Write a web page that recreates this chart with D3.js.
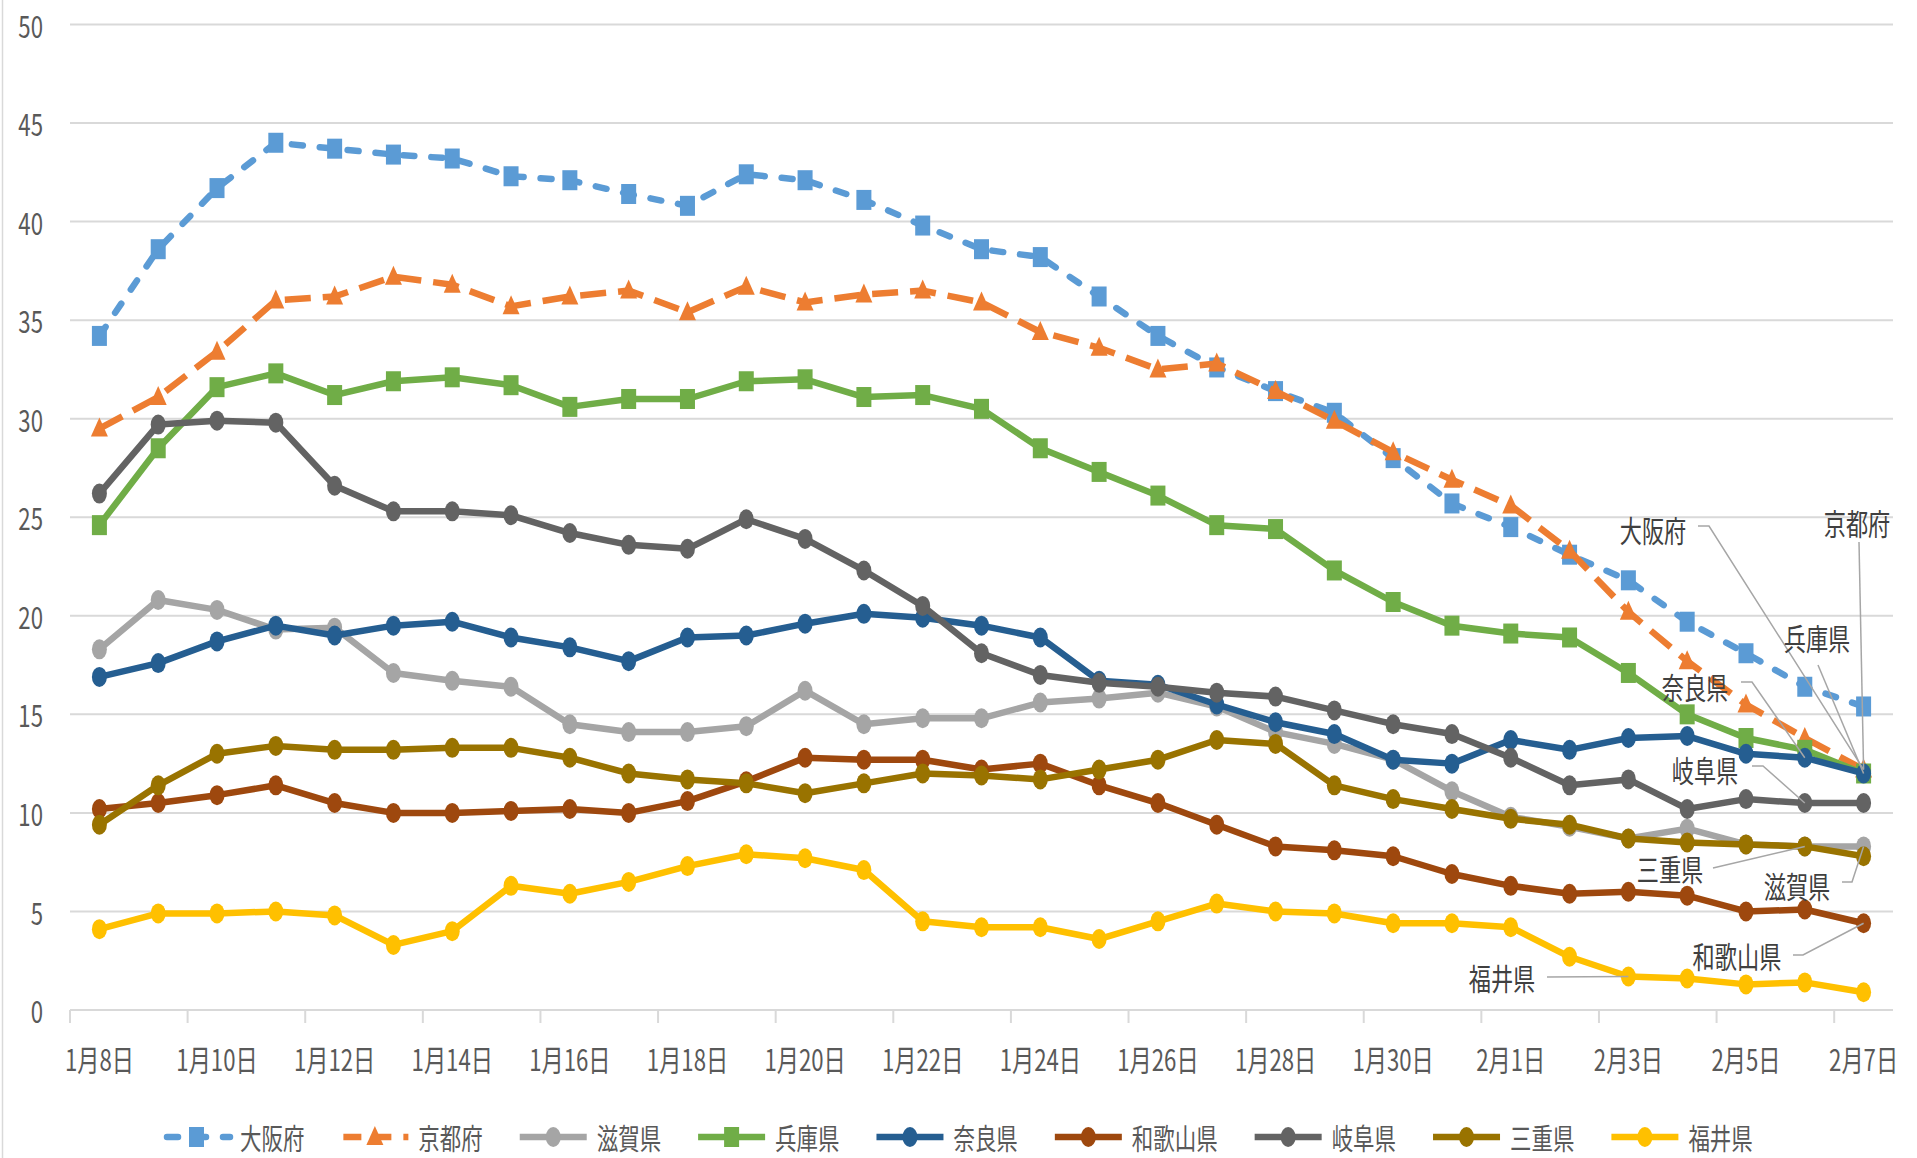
<!DOCTYPE html>
<html>
<head>
<meta charset="utf-8">
<script src="https://cdn.jsdelivr.net/npm/d3@7"></script>
<style>
  body { margin: 0; background: #fff; }
  svg { display: block; font-family: "Noto Sans CJK JP", "Noto Sans", sans-serif; }
</style>
</head>
<body>
<div id="chart"></div>
<script>
// categories (x axis)
const dates = ["1月8日","1月9日","1月10日","1月11日","1月12日","1月13日","1月14日","1月15日",
  "1月16日","1月17日","1月18日","1月19日","1月20日","1月21日","1月22日","1月23日","1月24日",
  "1月25日","1月26日","1月27日","1月28日","1月29日","1月30日","1月31日","2月1日","2月2日",
  "2月3日","2月4日","2月5日","2月6日","2月7日"];
const yTicks = [0, 5, 10, 15, 20, 25, 30, 35, 40, 45, 50];

// series values
const osaka    = [34.2,38.6,41.7,44.0,43.7,43.4,43.2,42.3,42.1,41.4,40.8,42.4,42.1,41.1,39.8,38.6,38.2,36.2,34.2,32.6,31.4,30.3,28.0,25.7,24.5,23.1,21.8,19.7,18.1,16.4,15.4];
const kyoto    = [29.5,31.1,33.4,36.0,36.2,37.2,36.8,35.7,36.2,36.5,35.4,36.7,35.9,36.3,36.5,35.9,34.4,33.6,32.5,32.8,31.4,29.9,28.3,26.9,25.6,23.3,20.2,17.7,15.5,13.8,12.2];
const shiga    = [18.3,20.8,20.3,19.3,19.4,17.1,16.7,16.4,14.5,14.1,14.1,14.4,16.2,14.5,14.8,14.8,15.6,15.8,16.1,15.4,14.1,13.5,12.7,11.1,9.8,9.3,8.7,9.2,8.4,8.3,8.3];
const hyogo    = [24.6,28.5,31.6,32.3,31.2,31.9,32.1,31.7,30.6,31.0,31.0,31.9,32.0,31.1,31.2,30.5,28.5,27.3,26.1,24.6,24.4,22.3,20.7,19.5,19.1,18.9,17.1,15.0,13.8,13.2,12.0];
const nara     = [16.9,17.6,18.7,19.5,19.0,19.5,19.7,18.9,18.4,17.7,18.9,19.0,19.6,20.1,19.9,19.5,18.9,16.7,16.5,15.5,14.6,14.0,12.7,12.5,13.7,13.2,13.8,13.9,13.0,12.8,12.0];
const wakayama = [10.2,10.5,10.9,11.4,10.5,10.0,10.0,10.1,10.2,10.0,10.6,11.6,12.8,12.7,12.7,12.2,12.5,11.4,10.5,9.4,8.3,8.1,7.8,6.9,6.3,5.9,6.0,5.8,5.0,5.1,4.4];
const gifu     = [26.2,29.7,29.9,29.8,26.6,25.3,25.3,25.1,24.2,23.6,23.4,24.9,23.9,22.3,20.5,18.1,17.0,16.6,16.4,16.1,15.9,15.2,14.5,14.0,12.8,11.4,11.7,10.2,10.7,10.5,10.5];
const mie      = [9.4,11.4,13.0,13.4,13.2,13.2,13.3,13.3,12.8,12.0,11.7,11.5,11.0,11.5,12.0,11.9,11.7,12.2,12.7,13.7,13.5,11.4,10.7,10.2,9.7,9.4,8.7,8.5,8.4,8.3,7.8];
const fukui    = [4.1,4.9,4.9,5.0,4.8,3.3,4.0,6.3,5.9,6.5,7.3,7.9,7.7,7.1,4.5,4.2,4.2,3.6,4.5,5.4,5.0,4.9,4.4,4.4,4.2,2.7,1.7,1.6,1.3,1.4,0.9];

const names = ["大阪府","京都府","滋賀県","兵庫県","奈良県","和歌山県","岐阜県","三重県","福井県"];
const values = [osaka, kyoto, shiga, hyogo, nara, wakayama, gifu, mie, fukui];

// styling per series
const colors  = ["#5B9BD5","#ED7D31","#A5A5A5","#70AD47","#255E91","#9E480E","#636363","#997300","#FFC000"];
const markers = ["square","triangle","ellipse","square","ellipse","ellipse","ellipse","ellipse","ellipse"];
const dashes  = ["11,17","26,12",null,null,null,null,null,null,null];

const W = 1917, H = 1158;
const M = { left: 70, right: 1893, top: 24.5, bottom: 1010 };
const SX = 0.74; // condensed text look
const TXT = "#595959";

const svg = d3.select("#chart").append("svg").attr("width", W).attr("height", H);

const x = d3.scalePoint().domain(dates).range([M.left, M.right]).padding(0.5);
const step = x.step();
const y = d3.scaleLinear().domain([0, 50]).range([M.bottom, M.top]);

const text = (g, px, py, str, anchor, fill, size) =>
    g.append("text")
        .attr("transform", `translate(${px},${py}) scale(${SX},1)`)
        .attr("text-anchor", anchor)
        .attr("dominant-baseline", "central")
        .attr("font-size", size || 30)
        .attr("fill", fill || TXT)
        .text(str);

// chart frame edge on the left
svg.append("line").attr("x1", 2.5).attr("x2", 2.5).attr("y1", 0).attr("y2", H)
    .attr("stroke", "#D9D9D9").attr("stroke-width", 1.5);

// gridlines + y labels
const grid = svg.append("g");
yTicks.forEach(t => {
    grid.append("line").attr("x1", M.left).attr("x2", M.right)
        .attr("y1", y(t)).attr("y2", y(t))
        .attr("stroke", "#D9D9D9").attr("stroke-width", 2);
    text(grid, 43, y(t), String(t), "end");
});

// x tick marks every two categories, labels under every other category
dates.forEach((d, i) => {
    if (i % 2) return;
    const bx = x(d) - step / 2;
    grid.append("line").attr("x1", bx).attr("x2", bx).attr("y1", y(0)).attr("y2", y(0) + 13)
        .attr("stroke", "#D9D9D9").attr("stroke-width", 2);
    text(grid, x(d), 1058, d, "middle");
});

const drawMarker = (g, type, color, px, py) => {
    if (type === "square") {
        g.append("rect").attr("x", px - 7.5).attr("y", py - 10).attr("width", 15).attr("height", 20).attr("fill", color);
    } else if (type === "triangle") {
        g.append("path").attr("d", `M${px},${py - 11}L${px + 8.5},${py + 8}L${px - 8.5},${py + 8}Z`).attr("fill", color);
    } else {
        g.append("ellipse").attr("cx", px).attr("cy", py).attr("rx", 7.5).attr("ry", 10).attr("fill", color);
    }
};

const line = d3.line().x((v, i) => x(dates[i])).y(v => y(v));

const plot = svg.append("g");
values.forEach((vals, s) => {
    const g = plot.append("g");
    g.append("path").attr("d", line(vals))
        .attr("fill", "none").attr("stroke", colors[s]).attr("stroke-width", 6.5)
        .attr("stroke-linejoin", "round")
        .attr("stroke-linecap", s === 0 ? "round" : "butt")
        .attr("stroke-dasharray", dashes[s]);
    vals.forEach((v, i) => drawMarker(g, markers[s], colors[s], x(dates[i]), y(v)));
});

// data labels with leader lines (label pos, leader start/stub, target series + index)
const labels = [
    { s: 0, cx: 1653, cy: 529, path: [[1698, 526], [1709, 526]], tS: 1, tI: 30 },
    { s: 1, cx: 1857, cy: 522, path: [[1859, 542]], tS: 1, tI: 30 },
    { s: 3, cx: 1817, cy: 637, path: [[1818, 665]], tS: 3, tI: 30 },
    { s: 4, cx: 1695, cy: 686, path: [[1741, 682], [1752, 682]], tS: 4, tI: 29 },
    { s: 6, cx: 1705, cy: 769, path: [[1752, 766], [1763, 766]], tS: 6, tI: 29 },
    { s: 7, cx: 1670, cy: 868, path: [[1713, 868]], tS: 7, tI: 29 },
    { s: 2, cx: 1797, cy: 885, path: [[1842, 882], [1852, 882]], tS: 2, tI: 30 },
    { s: 5, cx: 1737, cy: 955, path: [[1793, 955], [1803, 955]], tS: 5, tI: 30 },
    { s: 8, cx: 1502, cy: 977, path: [[1547, 977]], tS: 8, tI: 26 }
];
const ann = svg.append("g");
labels.forEach(l => {
    const pts = l.path.concat([[x(dates[l.tI]), y(values[l.tS][l.tI])]]);
    ann.append("path").attr("d", d3.line()(pts))
        .attr("fill", "none").attr("stroke", "#A6A6A6").attr("stroke-width", 1.5);
    text(ann, l.cx, l.cy, names[l.s], "middle", "#404040");
});

// legend
const leg = svg.append("g");
let lx = 163;
const ly = 1137;
names.forEach((n, s) => {
    leg.append("line").attr("x1", lx).attr("x2", lx + 67).attr("y1", ly).attr("y2", ly)
        .attr("stroke", colors[s]).attr("stroke-width", 6.5)
        .attr("stroke-linecap", s === 0 ? "round" : "butt")
        .attr("stroke-dasharray", s === 0 ? "11,17" : (s === 1 ? "18,12" : null))
        .attr("stroke-dashoffset", s === 0 ? -4 : (s === 1 ? -2 : 0));
    drawMarker(leg, markers[s], colors[s], lx + 33.5, ly);
    const t = text(leg, lx + 77, ly, n, "start", TXT, 29);
    lx += 77 + t.node().getComputedTextLength() * SX + 37;
});
</script>
</body>
</html>
